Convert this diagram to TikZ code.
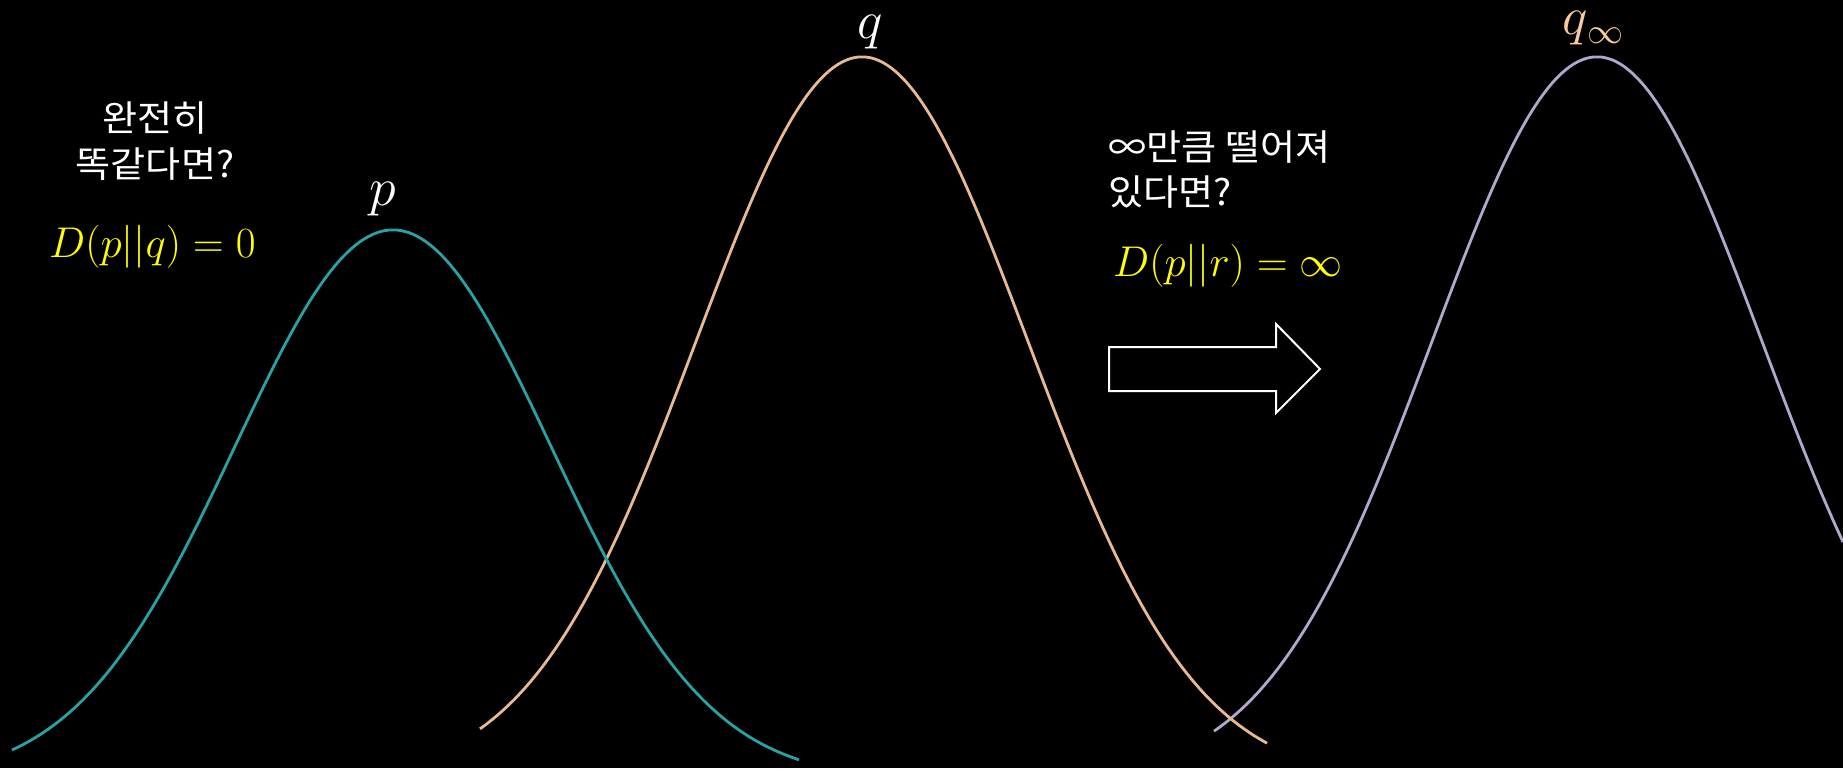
\documentclass[tikz,border=0pt]{standalone}
\usepackage{fix-cm}
\usepackage{fontspec}
\newfontfamily\kr{Noto Sans CJK KR}[FakeStretch=1.06]
\definecolor{tealc}{RGB}{40,162,162}
\definecolor{peach}{RGB}{232,186,148}
\definecolor{lav}{RGB}{178,168,206}
\definecolor{qinf}{RGB}{248,203,160}
\definecolor{yel}{RGB}{255,255,0}
\tikzset{
  curve/.style={line width=2.8pt},
  kortext/.style={text=white, inner sep=0pt, font=\kr\fontsize{36}{40}\selectfont},
  formula/.style={text=yel, inner sep=0pt, font=\fontsize{43}{48}\selectfont},
  label/.style={text=white, inner sep=0pt, font=\fontsize{54}{60}\selectfont},
  blockarrow/.style={draw=white, line width=2pt, line join=miter}
}
\begin{document}
\begin{tikzpicture}[x=1pt,y=-1pt]
\fill[black] (0,0) rectangle (1843,768);
\useasboundingbox (0,0) rectangle (1843,768);
% curves
\draw[curve, lav] plot[domain=1214:1843, samples=220, smooth] (\x, {780-723*exp(-0.5*((\x-1597)/165)^2)});
\draw[curve, peach] plot[domain=480:1267, samples=260, smooth] (\x, {780-723*exp(-0.5*((\x-862)/166)^2)});
\draw[curve, tealc] plot[domain=12:799, samples=260, smooth] (\x, {780-550*exp(-0.5*((\x-393)/158)^2)});
% labels
\node[label, anchor=base] (lp) at (383,205) {$p$};
\node[label, anchor=base] (lq) at (870,39) {$q$};
\node[label, text=qinf, anchor=base west] (lqi) at (1562,35) {$q$\raisebox{-9pt}{\fontsize{36}{36}\selectfont$\infty$}};
% left texts
\node[kortext, anchor=base] (t1) at (155,131) {완전히};
\node[kortext, anchor=base] (t2) at (155,177) {똑같다면?};
\node[formula, anchor=base west] (f1) at (49,257) {$D(p||q)=0$};
% right texts
\node[kortext, anchor=base west] (t3) at (1108,160) {∞만큼 떨어져};
\node[kortext, anchor=base west] (t4) at (1108,205) {있다면?};
\node[formula, anchor=base west] (f2) at (1113,276) {$D(p||r)=\infty$};
% block arrow
\draw[blockarrow] (1109,347) -- (1276,347) -- (1276,324) -- (1320,369) -- (1276,413) -- (1276,391) -- (1109,391) -- cycle;
\end{tikzpicture}
\end{document}
